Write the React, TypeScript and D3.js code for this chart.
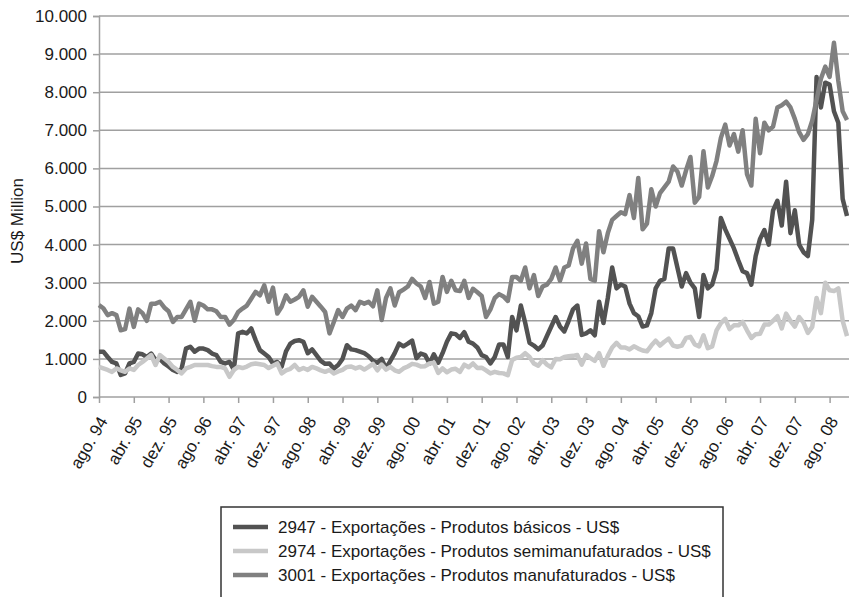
import React, { useEffect, useRef } from "react";
import * as d3 from "d3";

// monthly exports, US$ million, ago. 94 .. dez. 08
const basicos = [
  1190, 1190, 1050, 920, 880, 580, 620, 880, 920, 1140, 1120, 1050,
  1140, 970, 1000, 880, 800, 710, 660, 750, 1270, 1320, 1190, 1270,
  1270, 1230, 1140, 1100, 920, 880, 920, 720, 1670, 1710, 1670, 1800,
  1500, 1230, 1140, 1050, 880, 920, 800, 1200, 1400, 1470, 1490, 1450,
  1150, 1250, 1100, 950, 870, 880, 750, 840, 1000, 1360, 1250, 1230,
  1190, 1150, 1070, 950, 900, 1000, 750, 950, 1150, 1400, 1330, 1400,
  1480, 1020, 1140, 1100, 880, 1120, 900, 1150, 1450, 1670, 1650, 1550,
  1700, 1450, 1400, 1300, 1100, 1050, 880, 1050, 1380, 1380, 1050, 2100,
  1750, 2400, 1950, 1420, 1350, 1250, 1350, 1600, 1850, 2100, 1850, 1720,
  2000, 2300, 2400, 1630, 1670, 1750, 1620, 2500, 1940, 2600, 3400, 2850,
  2950, 2900, 2450, 2200, 2120, 1850, 1880, 2200, 2850, 3050, 3100, 3900,
  3900, 3400, 2900, 3250, 3000, 2850, 2100, 3200, 2850, 2950, 3350, 4700,
  4400, 4150, 3900, 3590, 3300, 3250, 2950, 3700, 4150, 4380, 4000, 4900,
  5150, 4500, 5650, 4300, 4900, 4000, 3800, 3700, 4650, 8400, 7600, 8250,
  8200, 7500, 7200, 5200, 4750,
];

const semimanufaturados = [
  790, 750, 710, 660, 750, 700, 660, 750, 710, 840, 920, 1010,
  1100, 840, 1100, 1010, 920, 790, 710, 620, 750, 790, 840, 840,
  840, 840, 810, 790, 790, 750, 530, 710, 790, 760, 800, 860,
  880, 860, 840, 760, 820, 880, 620, 700, 740, 840, 710, 760,
  710, 790, 750, 700, 660, 710, 620, 670, 710, 790, 800, 750,
  790, 720, 790, 870, 700, 850, 720, 790, 700, 660, 750, 800,
  870, 850, 800, 810, 880, 900, 630, 750, 650, 720, 740, 660,
  850, 780, 880, 760, 770, 700, 620, 660, 630, 620, 570, 970,
  1030, 1050, 1150, 1050, 880, 820, 970, 850, 780, 1000, 990, 1050,
  1070, 1080, 1100, 850, 1100, 1020, 950, 1150, 820, 1080, 1300, 1420,
  1300, 1300, 1250, 1330, 1270, 1220, 1200, 1350, 1480, 1350, 1450, 1530,
  1350, 1320, 1350, 1550, 1580, 1380, 1330, 1620, 1280, 1330, 1750, 1940,
  2050, 1780, 1880, 1880, 1970, 1750, 1550, 1650, 1660, 1900, 1900, 2000,
  2120, 1800, 2190, 2000, 1850, 2100, 1950, 1680, 1840, 2600, 2200, 3000,
  2800, 2780, 2850, 2000, 1600,
];

const manufaturados = [
  2410, 2330, 2150, 2200, 2150, 1750, 1780, 2320, 1840, 2300, 2200, 2000,
  2450, 2450, 2500, 2350, 2250, 1970, 2100, 2100, 2300, 2500, 2000, 2450,
  2400, 2300, 2300, 2250, 2100, 2100, 1900, 2020, 2230, 2320, 2400, 2580,
  2760, 2670, 2930, 2500, 2870, 2190, 2370, 2670, 2500, 2560, 2630, 2800,
  2370, 2630, 2500, 2370, 2230, 1670, 1970, 2280, 2100, 2320, 2400, 2280,
  2500, 2450, 2500, 2380, 2800, 2020, 2600, 2850, 2400, 2750, 2820, 2900,
  3100, 2980, 2900, 2600, 3020, 2450, 2500, 3150, 2760, 3050, 2800, 2780,
  3050, 2600, 2840, 2750, 2650, 2100, 2300, 2600, 2700, 2640, 2520, 3150,
  3150, 3050, 3400, 2850, 3200, 2650, 2900, 2950, 3100, 3400, 3050, 3400,
  3450, 3900, 4100, 3500, 4030, 3100, 3050, 4350, 3800, 4300, 4650, 4750,
  4850, 4800, 5300, 4700, 5750, 4400, 4550, 5450, 5000, 5350, 5500, 5650,
  6050, 5920, 5550, 5950, 6300, 5100, 5250, 6450, 5500, 5800, 6200, 6800,
  7150, 6600, 6900, 6440, 7000, 5850, 5550, 7300, 6400, 7200, 7000, 7100,
  7600, 7660, 7750, 7600, 7300, 6950, 6750, 6900, 7250, 7800, 8350, 8670,
  8400, 9300, 8300, 7500, 7270,
];

const tickLabels = [
  "ago. 94", "abr. 95", "dez. 95", "ago. 96", "abr. 97", "dez. 97",
  "ago. 98", "abr. 99", "dez. 99", "ago. 00", "abr. 01", "dez. 01",
  "ago. 02", "abr. 03", "dez. 03", "ago. 04", "abr. 05", "dez. 05",
  "ago. 06", "abr. 07", "dez. 07", "ago. 08",
];

const series = [
  { name: "2947 - Exportações - Produtos básicos - US$", values: basicos, color: "#525252" },
  { name: "2974 - Exportações - Produtos semimanufaturados - US$", values: semimanufaturados, color: "#c8c8c8" },
  { name: "3001 - Exportações - Produtos manufaturados - US$", values: manufaturados, color: "#808080" },
];

const W = 849;
const H = 597;

export default function App() {
  const svgRef = useRef<SVGSVGElement>(null);

  useEffect(() => {
    const svg = d3.select(svgRef.current);
    svg.selectAll("*").remove();

    const x = d3.scaleLinear().domain([0, basicos.length - 1]).range([99, 847]);
    const y = d3.scaleLinear().domain([0, 10000]).range([397, 16]);
    const font = "Liberation Sans, Arial, sans-serif";

    // gridlines
    svg
      .append("g")
      .selectAll("line")
      .data(d3.range(1000, 10001, 1000))
      .join("line")
      .attr("x1", 99)
      .attr("x2", W)
      .attr("y1", (d) => y(d))
      .attr("y2", (d) => y(d))
      .attr("stroke", "#a0a0a0")
      .attr("stroke-width", 1.5);

    const yAxis = d3
      .axisLeft(y)
      .tickValues(d3.range(0, 10001, 1000))
      .tickSize(6)
      .tickPadding(6)
      .tickFormat((d) => d3.format(",")(d as number).replace(/,/g, "."));
    const gy = svg.append("g").attr("transform", "translate(99,0)").call(yAxis);
    gy.select(".domain").attr("stroke", "#a0a0a0").attr("stroke-width", 1.5);
    gy.selectAll(".tick line").attr("stroke", "#a0a0a0").attr("stroke-width", 1.5);
    gy.selectAll("text").attr("font-size", 17).attr("font-family", font).attr("fill", "#1a1a1a");

    const tickIdx = d3.range(0, basicos.length, 8);
    const xAxis = d3
      .axisBottom(x)
      .tickValues(tickIdx)
      .tickSize(6)
      .tickFormat(() => "");
    const gx = svg.append("g").attr("transform", "translate(0,397)").call(xAxis);
    gx.select(".domain").remove();
    gx.append("line").attr("x1", 99).attr("x2", W).attr("stroke", "#a0a0a0").attr("stroke-width", 1.5);
    gx.selectAll(".tick line").attr("stroke", "#a0a0a0").attr("stroke-width", 1.5);

    svg
      .append("g")
      .selectAll("text")
      .data(tickIdx)
      .join("text")
      .attr("transform", (d) => `translate(${x(d) + 4},418) rotate(-60)`)
      .attr("text-anchor", "end")
      .attr("dy", "0.35em")
      .attr("font-size", 17)
      .attr("font-family", font)
      .attr("fill", "#1a1a1a")
      .text((d, i) => tickLabels[i]);

    svg
      .append("text")
      .attr("transform", "translate(23,221) rotate(-90)")
      .attr("text-anchor", "middle")
      .attr("font-size", 17)
      .attr("font-family", font)
      .attr("fill", "#1a1a1a")
      .text("US$ Million");

    const line = d3
      .line<number>()
      .x((d, i) => x(i))
      .y((d) => y(d));

    svg
      .append("g")
      .selectAll("path")
      .data(series)
      .join("path")
      .attr("d", (s) => line(s.values))
      .attr("fill", "none")
      .attr("stroke", (s) => s.color)
      .attr("stroke-width", 4.5)
      .attr("stroke-linejoin", "round");

    // legend
    const lg = svg.append("g");
    lg.append("rect")
      .attr("x", 221)
      .attr("y", 507)
      .attr("width", 502)
      .attr("height", 110)
      .attr("fill", "#fff")
      .attr("stroke", "#333")
      .attr("stroke-width", 1.5);
    const rows = lg
      .selectAll("g.row")
      .data(series)
      .join("g")
      .attr("class", "row")
      .attr("transform", (d, i) => `translate(0,${527 + i * 24})`);
    rows
      .append("line")
      .attr("x1", 233)
      .attr("x2", 268)
      .attr("stroke", (s) => s.color)
      .attr("stroke-width", 4.5);
    rows
      .append("text")
      .attr("x", 278)
      .attr("dy", "0.35em")
      .attr("font-size", 17)
      .attr("font-family", font)
      .attr("fill", "#1a1a1a")
      .text((s) => s.name);
  }, []);

  return (
    <div style={{ position: "absolute", left: 0, top: 0 }}>
      <svg ref={svgRef} width={W} height={H} style={{ display: "block", background: "#fff" }} />
    </div>
  );
}
